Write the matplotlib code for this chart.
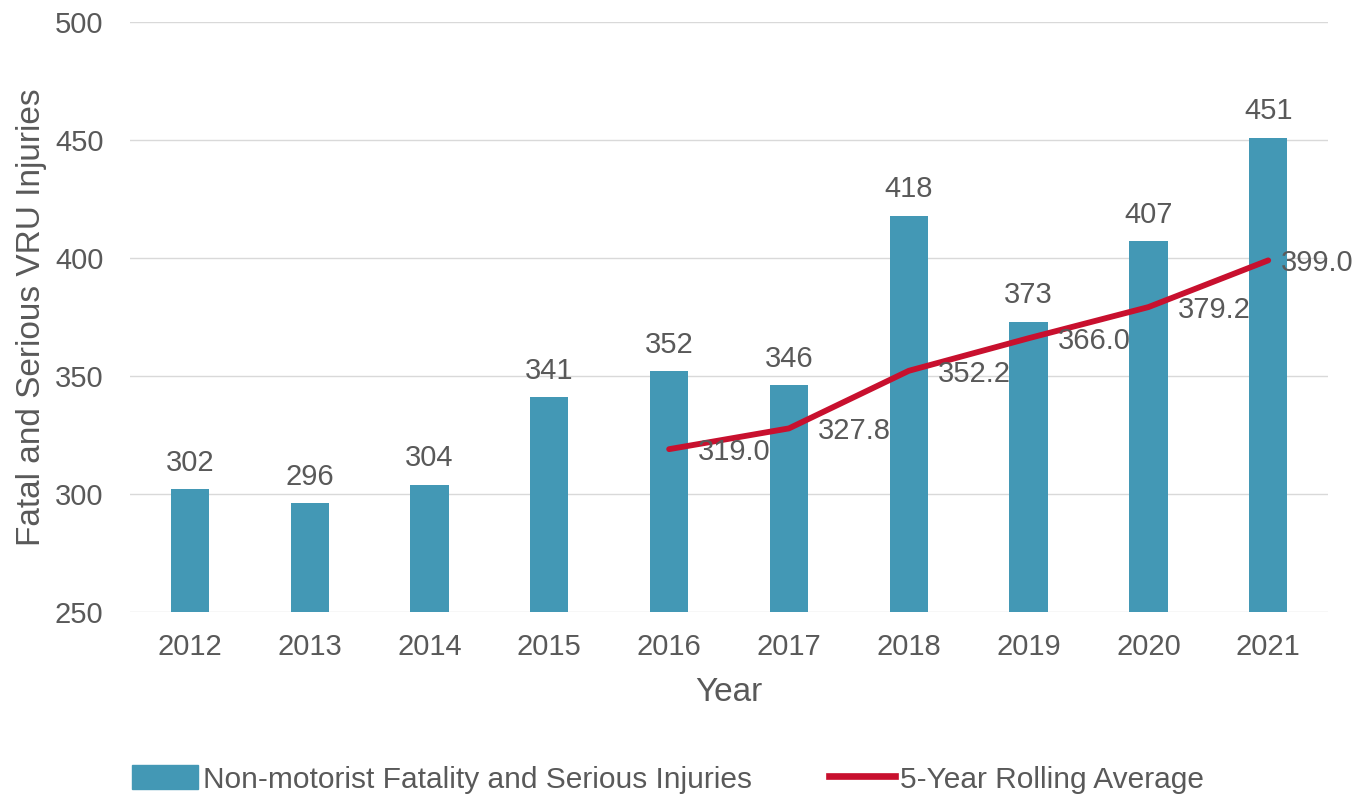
import matplotlib.pyplot as plt
from matplotlib.lines import Line2D
from matplotlib.patches import Patch

plt.rcParams['font.family'] = ['Liberation Sans', 'DejaVu Sans']

years = ['2012', '2013', '2014', '2015', '2016', '2017', '2018', '2019', '2020', '2021']
injuries = [302, 296, 304, 341, 352, 346, 418, 373, 407, 451]
avg_years = ['2016', '2017', '2018', '2019', '2020', '2021']
rolling_avg = [319.0, 327.8, 352.2, 366.0, 379.2, 399.0]

bar_color = '#4398b5'
line_color = '#c8102e'
text_color = '#595959'

fig = plt.figure(figsize=(13.58, 7.95), dpi=100)
ax = fig.add_axes([0.0957, 0.2302, 0.8823, 0.7421])

x = list(range(len(years)))
ax.bar(x, injuries, width=0.32, color=bar_color, zorder=2)
for xi, v in zip(x, injuries):
    ax.annotate(str(v), (xi, v), xytext=(0, 9), textcoords='offset points',
                ha='center', va='bottom', fontsize=21, color=text_color)

avg_x = [years.index(y) for y in avg_years]
ax.plot(avg_x, rolling_avg, color=line_color, lw=4.2, solid_capstyle='round', zorder=3)
for i, (xi, v) in enumerate(zip(avg_x, rolling_avg)):
    dx = 9 if i == len(rolling_avg) - 1 else 21
    ax.annotate(f'{v:.1f}', (xi, v), xytext=(dx, -2), textcoords='offset points',
                ha='left', va='center', fontsize=21, color=text_color, zorder=4)

ax.set_xlim(-0.5, len(years) - 0.5)
ax.set_ylim(250, 500)
ax.set_yticks([250, 300, 350, 400, 450, 500])
ax.set_xticks(x)
ax.set_xticklabels(years)
ax.tick_params(axis='both', length=0, labelsize=21, labelcolor=text_color)
ax.tick_params(axis='y', pad=19)
ax.tick_params(axis='x', pad=15)
ax.grid(axis='y', color='#d9d9d9', lw=1, zorder=0)
for s in ax.spines.values():
    s.set_visible(False)

ax.set_xlabel('Year', fontsize=24, color=text_color, labelpad=12)
ax.set_ylabel('Fatal and Serious VRU Injuries', fontsize=24, color=text_color, labelpad=6)

handles = [Patch(color=bar_color), Line2D([], [], color=line_color, lw=4.8)]
fig.legend(handles, ['Non-motorist Fatality and Serious Injuries', '5-Year Rolling Average'],
           loc='lower center', bbox_to_anchor=(0.492, -0.032), ncol=2, frameon=False,
           fontsize=21.5, labelcolor=text_color, handlelength=2.2, handleheight=0.85,
           handletextpad=0.17, columnspacing=2.6)

fig.savefig('out.png', dpi=100)
